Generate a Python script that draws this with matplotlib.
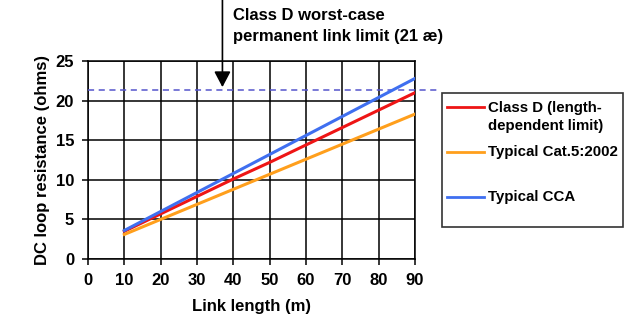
import matplotlib
matplotlib.use("Agg")
import matplotlib.pyplot as plt
from matplotlib.lines import Line2D
from matplotlib.patches import Rectangle

plt.rcParams['font.family'] = ['Liberation Sans', 'DejaVu Sans']
plt.rcParams['font.weight'] = 'bold'

# Link length (m) and DC loop resistance (ohms) per series
length_m = [10, 20, 30, 40, 50, 60, 70, 80, 90]
class_d = [3.5, 5.7, 7.9, 10.1, 12.2, 14.4, 16.6, 18.8, 21.0]
cat5_2002 = [3.1, 5.0, 6.9, 8.8, 10.7, 12.6, 14.5, 16.4, 18.3]
cca = [3.6, 6.0, 8.4, 10.8, 13.2, 15.6, 18.0, 20.4, 22.8]

worst_case_limit = 21.4
arrow_x = 37

x_ticks = list(range(0, 91, 10))
y_ticks = list(range(0, 26, 5))

series_labels = ["Class D (length-\ndependent limit)", "Typical Cat.5:2002", "Typical CCA"]
series_colors = ["#ee1515", "#ff9f1c", "#3f6ff0"]

W, H = 636, 336
fig = plt.figure(figsize=(W / 100, H / 100), dpi=100)
ax = fig.add_axes([88 / W, 1 - 259 / H, (415 - 88) / W, (259 - 61) / H])

ax.set_xlim(0, 90)
ax.set_ylim(0, 25)
ax.set_xticks(x_ticks)
ax.set_yticks(y_ticks)
ax.grid(True, color="black", linewidth=1.1)
ax.set_axisbelow(True)
for s in ax.spines.values():
    s.set_color("black")
    s.set_linewidth(1.1)
ax.tick_params(axis="both", length=4, width=1.1, color="black", labelsize=12, pad=6)
for lab in ax.get_xticklabels() + ax.get_yticklabels():
    lab.set_fontweight("bold")

ax.set_xlabel("Link length (m)", fontsize=12, fontweight="bold", labelpad=8)
ax.set_ylabel("DC loop resistance (ohms)", fontsize=12, fontweight="bold", labelpad=4)

# Worst-case permanent link limit, extending past the plot frame
ax.plot([0, 96], [worst_case_limit, worst_case_limit], linestyle=(0, (4, 3)),
        color="#5555cc", linewidth=1.1, clip_on=False, zorder=3)

for ys, c in zip([class_d, cat5_2002, cca], series_colors):
    ax.plot(length_m, ys, color=c, linewidth=2.2, zorder=4)

# Arrow pointing at the limit line
ax.annotate("", xy=(arrow_x, worst_case_limit + 0.3), xytext=(arrow_x, 33.5),
            xycoords="data", textcoords="data",
            arrowprops=dict(arrowstyle="-|>,head_length=0.95,head_width=0.5",
                            color="black", linewidth=1.2, shrinkA=0, shrinkB=0),
            annotation_clip=False, zorder=5)
fig.text(233 / W, 1 - 16 / H, "Class D worst-case", fontsize=12, fontweight="bold",
         va="center", ha="left")
fig.text(233 / W, 1 - 36 / H, "permanent link limit (21 æ)", fontsize=12,
         fontweight="bold", va="center", ha="left")

# Legend box
fig.add_artist(Rectangle((442 / W, 1 - 227 / H), (623 - 442) / W, (227 - 93) / H,
                         transform=fig.transFigure, facecolor="white",
                         edgecolor="#333333", linewidth=1.2))
legend_y = [117, 152, 197]
for lab, c, yy in zip(series_labels, series_colors, legend_y):
    line_y = yy - 10 if "\n" in lab else yy
    fig.add_artist(Line2D([447 / W, 484 / W], [1 - line_y / H, 1 - line_y / H],
                          transform=fig.transFigure, color=c, linewidth=2))
    fig.text(488 / W, 1 - yy / H, lab, fontsize=10.8, fontweight="bold",
             va="center", ha="left", linespacing=1.3)

fig.savefig("out.png", dpi=100)
